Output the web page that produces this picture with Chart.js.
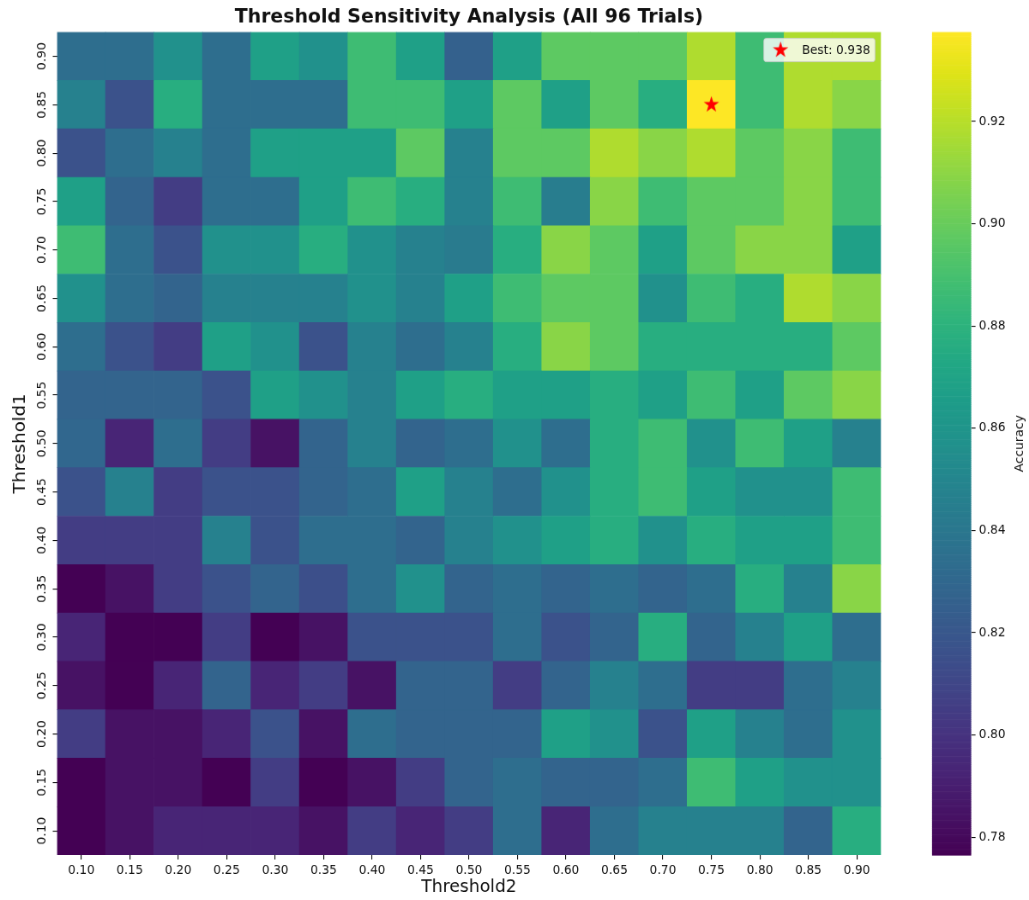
<!DOCTYPE html>
<html>
<head>
<meta charset="utf-8">
<script src="https://cdn.jsdelivr.net/npm/chart.js@4.4.0/dist/chart.umd.min.js"></script>
<style>
html,body{margin:0;padding:0;background:#fff;overflow:hidden}
#c{display:block}
</style>
</head>
<body>
<canvas id="c" width="1200" height="1000" style="width:1029px;height:900px"></canvas>
<script>
// ---------------- DATA ----------------
const threshold2Labels = ['0.10','0.15','0.20','0.25','0.30','0.35','0.40','0.45','0.50','0.55','0.60','0.65','0.70','0.75','0.80','0.85','0.90'];
const threshold1Labels = ['0.10','0.15','0.20','0.25','0.30','0.35','0.40','0.45','0.50','0.55','0.60','0.65','0.70','0.75','0.80','0.85','0.90'];

// accuracy per Threshold1 row, listed across Threshold2 = 0.10 ... 0.90
const acc_010 = [0.7765,0.784,0.793,0.793,0.793,0.784,0.805,0.793,0.805,0.834,0.793,0.834,0.847,0.847,0.847,0.828,0.877];
const acc_015 = [0.7765,0.784,0.784,0.7765,0.805,0.7765,0.784,0.805,0.828,0.834,0.828,0.828,0.834,0.887,0.868,0.857,0.857];
const acc_020 = [0.805,0.784,0.784,0.793,0.817,0.784,0.834,0.828,0.828,0.828,0.868,0.857,0.817,0.868,0.847,0.834,0.857];
const acc_025 = [0.784,0.7765,0.793,0.828,0.793,0.805,0.784,0.828,0.828,0.805,0.828,0.847,0.834,0.805,0.805,0.834,0.847];
const acc_030 = [0.793,0.7765,0.7765,0.805,0.7765,0.784,0.817,0.817,0.817,0.834,0.817,0.828,0.877,0.828,0.847,0.868,0.834];
const acc_035 = [0.7765,0.784,0.805,0.817,0.828,0.815,0.834,0.857,0.828,0.834,0.828,0.834,0.828,0.834,0.877,0.847,0.909];
const acc_040 = [0.805,0.805,0.805,0.847,0.817,0.834,0.834,0.828,0.847,0.857,0.868,0.877,0.857,0.877,0.868,0.868,0.887];
const acc_045 = [0.817,0.847,0.805,0.817,0.817,0.828,0.834,0.868,0.847,0.834,0.857,0.877,0.887,0.868,0.857,0.857,0.887];
const acc_050 = [0.830,0.793,0.834,0.805,0.784,0.828,0.847,0.828,0.834,0.857,0.834,0.877,0.887,0.857,0.887,0.868,0.847];
const acc_055 = [0.828,0.828,0.828,0.817,0.868,0.857,0.847,0.868,0.877,0.868,0.868,0.877,0.868,0.887,0.868,0.897,0.909];
const acc_060 = [0.834,0.817,0.805,0.868,0.857,0.817,0.847,0.834,0.847,0.877,0.909,0.897,0.877,0.877,0.877,0.877,0.897];
const acc_065 = [0.857,0.834,0.828,0.847,0.847,0.847,0.857,0.847,0.868,0.887,0.897,0.897,0.857,0.887,0.877,0.918,0.909];
const acc_070 = [0.887,0.834,0.817,0.857,0.857,0.877,0.857,0.847,0.843,0.877,0.909,0.897,0.868,0.897,0.909,0.909,0.868];
const acc_075 = [0.868,0.828,0.805,0.834,0.834,0.868,0.887,0.877,0.847,0.887,0.844,0.909,0.887,0.897,0.897,0.909,0.887];
const acc_080 = [0.817,0.834,0.847,0.834,0.868,0.868,0.868,0.897,0.847,0.897,0.897,0.918,0.909,0.918,0.897,0.909,0.887];
const acc_085 = [0.847,0.817,0.877,0.834,0.834,0.834,0.887,0.887,0.868,0.897,0.868,0.897,0.877,0.9375,0.887,0.918,0.909];
const acc_090 = [0.834,0.834,0.857,0.834,0.868,0.857,0.887,0.868,0.826,0.868,0.897,0.897,0.897,0.918,0.887,0.918,0.918];

const accuracyRows = [acc_010,acc_015,acc_020,acc_025,acc_030,acc_035,acc_040,acc_045,acc_050,
                      acc_055,acc_060,acc_065,acc_070,acc_075,acc_080,acc_085,acc_090];
const colorbarTicks = [0.78,0.80,0.82,0.84,0.86,0.88,0.90,0.92];

// ---------------- DERIVED ----------------
const allVals = accuracyRows.flat();
const vmin = Math.min(...allVals);
const vmax = Math.max(...allVals);
let bestRow = 0, bestCol = 0;
accuracyRows.forEach((r, i) => r.forEach((v, j) => { if (v === vmax) { bestRow = i; bestCol = j; } }));
const bestText = 'Best: ' + (Math.round(vmax * 1000) / 1000).toFixed(3);

const TEXT = '#111';
const FONT = "'DejaVu Sans', sans-serif";
Chart.defaults.font.family = FONT;
Chart.defaults.color = TEXT;

const VIRIDIS = ['#440154','#471365','#482475','#463480','#414487','#3b528b','#355f8d','#2f6c8e','#2a788e','#25848e',
                 '#21918c','#1e9c89','#22a884','#2fb47c','#44bf70','#5ec962','#7ad151','#9bd93c','#bddf26','#dfe318','#fde725'];
const VIR_RGB = VIRIDIS.map(h => [parseInt(h.slice(1,3),16), parseInt(h.slice(3,5),16), parseInt(h.slice(5,7),16)]);
function viridis(t) {
  t = Math.max(0, Math.min(1, t));
  const n = VIR_RGB.length - 1;
  const p = t * n;
  const i = Math.min(n - 1, Math.floor(p));
  const f = p - i;
  const a = VIR_RGB[i], b = VIR_RGB[i + 1];
  return `rgb(${Math.round(a[0]+(b[0]-a[0])*f)},${Math.round(a[1]+(b[1]-a[1])*f)},${Math.round(a[2]+(b[2]-a[2])*f)})`;
}
const colorFor = v => viridis((v - vmin) / (vmax - vmin));

function makeStar(R) {
  const c = document.createElement('canvas');
  const s = Math.ceil(2 * R + 4);
  c.width = s; c.height = s;
  const g = c.getContext('2d');
  g.translate(s / 2, s / 2);
  g.beginPath();
  for (let k = 0; k < 10; k++) {
    const r = k % 2 ? R * 0.381966 : R;
    const a = -Math.PI / 2 + k * Math.PI / 5;
    g.lineTo(r * Math.cos(a), r * Math.sin(a));
  }
  g.closePath();
  g.fillStyle = '#ff0000';
  g.fill();
  return c;
}
const starImg = makeStar(9.5);

// ---------------- DATASETS ----------------
const cellDatasets = accuracyRows.map((row, i) => ({
  type: 'bar',
  label: 'T1 ' + threshold1Labels[i],
  data: threshold2Labels.map(() => [i - 0.5, i + 0.5]),
  backgroundColor: row.map(colorFor),
  borderWidth: 0,
  barPercentage: 1,
  categoryPercentage: 1,
  grouped: false,
  xAxisID: 'x',
  yAxisID: 'y'
}));
const starDataset = {
  type: 'scatter',
  label: bestText,
  data: [{ x: threshold2Labels[bestCol], y: bestRow }],
  pointStyle: starImg,
  pointRadius: 10,
  showLine: false,
  order: -1,
  xAxisID: 'x',
  yAxisID: 'y'
};

const CBAR_W = 45.7;

const extras = {
  id: 'extras',
  beforeDraw(chart) {
    const ctx = chart.ctx;
    ctx.save();
    ctx.fillStyle = '#ffffff';
    ctx.fillRect(0, 0, chart.width, chart.height);
    ctx.restore();
  },
  afterDraw(chart) {
    const ctx = chart.ctx;
    const y = chart.scales.y, cb = chart.scales.cbar, area = chart.chartArea;
    // rotated y tick labels
    ctx.save();
    ctx.fillStyle = TEXT;
    ctx.font = `13.9px ${FONT}`;
    ctx.textAlign = 'center';
    ctx.textBaseline = 'middle';
    y.ticks.forEach(t => {
      const py = y.getPixelForValue(t.value);
      ctx.save();
      ctx.translate(y.right - 17.5, py);
      ctx.rotate(-Math.PI / 2);
      ctx.fillText(threshold1Labels[t.value], 0, 0);
      ctx.restore();
    });
    ctx.restore();

    // colorbar
    const x0 = cb.left - CBAR_W;
    const steps = 400;
    ctx.save();
    for (let k = 0; k < steps; k++) {
      const v0 = vmin + (vmax - vmin) * k / steps;
      const v1 = vmin + (vmax - vmin) * (k + 1) / steps;
      const ya = cb.getPixelForValue(v1), yb = cb.getPixelForValue(v0);
      ctx.fillStyle = viridis((k + 0.5) / steps);
      ctx.fillRect(x0, ya, CBAR_W, (yb - ya) + 0.6);
    }
    // colorbar label
    ctx.fillStyle = TEXT;
    ctx.font = `13.9px ${FONT}`;
    ctx.textAlign = 'center';
    ctx.textBaseline = 'middle';
    ctx.translate(1189, (cb.top + cb.bottom) / 2);
    ctx.rotate(-Math.PI / 2);
    ctx.fillText('Accuracy', 0, 0);
    ctx.restore();

    // legend (upper right inside the heatmap)
    const fs = 13.9;
    ctx.save();
    ctx.font = `${fs}px ${FONT}`;
    const tw = ctx.measureText(bestText).width;
    const bw = 0.4 * fs + 2 * fs + 0.8 * fs + tw + 0.4 * fs;
    const bh = 26;
    const bx = area.right - 7 - bw, by = area.top + 7;
    const r = 2.8;
    ctx.beginPath();
    ctx.moveTo(bx + r, by);
    ctx.arcTo(bx + bw, by, bx + bw, by + bh, r);
    ctx.arcTo(bx + bw, by + bh, bx, by + bh, r);
    ctx.arcTo(bx, by + bh, bx, by, r);
    ctx.arcTo(bx, by, bx + bw, by, r);
    ctx.closePath();
    ctx.fillStyle = 'rgba(255,255,255,0.8)';
    ctx.fill();
    ctx.strokeStyle = 'rgba(204,204,204,0.8)';
    ctx.lineWidth = 1;
    ctx.stroke();
    const sx = bx + 0.4 * fs + fs, sy = by + bh / 2;
    ctx.drawImage(starImg, sx - starImg.width / 2, sy - starImg.height / 2);
    ctx.fillStyle = TEXT;
    ctx.textAlign = 'left';
    ctx.textBaseline = 'middle';
    ctx.fillText(bestText, bx + 0.4 * fs + 2 * fs + 0.8 * fs, sy + 0.5);
    ctx.restore();
  }
};

new Chart(document.getElementById('c'), {
  data: {
    labels: threshold2Labels,
    datasets: [starDataset, ...cellDatasets]
  },
  options: {
    responsive: false,
    devicePixelRatio: 1,
    animation: false,
    events: [],
    layout: { padding: 0 },
    plugins: {
      legend: { display: false },
      tooltip: { enabled: false },
      title: {
        display: true,
        fullSize: false,
        text: 'Threshold Sensitivity Analysis (All 96 Trials)',
        color: TEXT,
        font: { size: 22, weight: 'bold', family: FONT, lineHeight: 1.2 },
        padding: { top: 6, bottom: 3.2 }
      }
    },
    scales: {
      x: {
        type: 'category',
        offset: true,
        grid: { display: true, drawOnChartArea: false, drawTicks: true, tickLength: 5, offset: false, color: TEXT, lineWidth: 1.1 },
        border: { display: false },
        ticks: { color: TEXT, font: { size: 13.9 }, padding: 4, maxRotation: 0, minRotation: 0, autoSkip: false },
        title: { display: true, text: 'Threshold2', color: TEXT, font: { size: 20, lineHeight: 1.2 }, padding: { top: 0, bottom: 2.4 } },
        afterFit(s) { s.height = 50; }
      },
      y: {
        type: 'linear',
        min: -0.5,
        max: threshold1Labels.length - 0.5,
        afterBuildTicks(s) { s.ticks = threshold1Labels.map((_, i) => ({ value: i })); },
        grid: { display: true, drawOnChartArea: false, drawTicks: true, tickLength: 5, color: TEXT, lineWidth: 1.1 },
        border: { display: false },
        ticks: { display: false },
        title: { display: true, text: 'Threshold1', color: TEXT, font: { size: 20, lineHeight: 1.2 }, padding: { top: 11.3, bottom: 0 } },
        afterFit(s) { s.width = 66.5; }
      },
      gap: {
        type: 'linear',
        position: 'right',
        weight: 0,
        display: true,
        grid: { display: false },
        border: { display: false },
        ticks: { display: false },
        afterFit(s) { s.width = 105.2; }
      },
      cbar: {
        type: 'linear',
        position: 'right',
        weight: 1,
        min: vmin,
        max: vmax,
        afterBuildTicks(s) { s.ticks = colorbarTicks.map(v => ({ value: v })); },
        grid: { display: true, drawOnChartArea: false, drawTicks: true, tickLength: 5, color: TEXT, lineWidth: 1.1 },
        border: { display: false },
        ticks: { color: TEXT, font: { size: 13.9 }, padding: 4, callback: v => Number(v).toFixed(2) },
        afterFit(s) { s.width = 67.4; }
      }
    }
  },
  plugins: [extras]
});
</script>
</body>
</html>
